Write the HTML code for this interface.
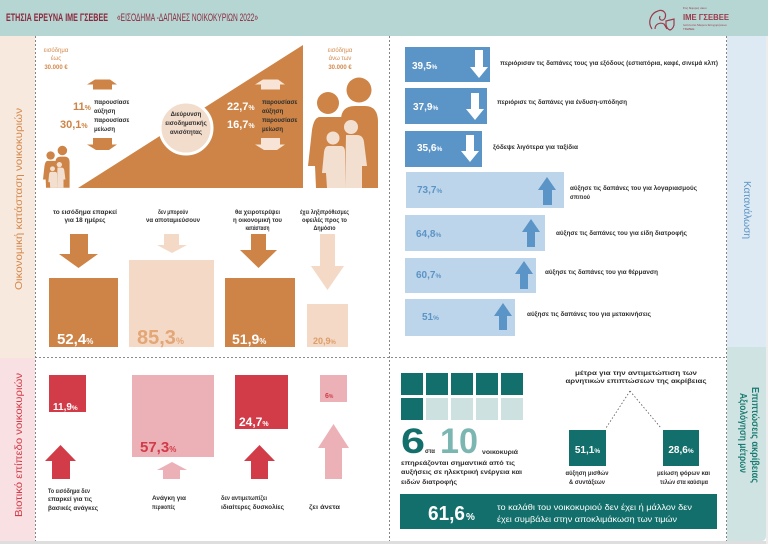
<!DOCTYPE html>
<html><head><meta charset="utf-8"><style>
html,body{margin:0;padding:0;width:768px;height:544px;overflow:hidden;background:#fff}
svg{display:block}
text{font-family:"Liberation Sans",sans-serif}
.d{fill:#2e2e2e;font-size:6px;font-weight:bold}
.w{fill:#fff}
.b{font-weight:bold}
</style></head><body>
<svg width="768" height="544" viewBox="0 0 768 544" xmlns="http://www.w3.org/2000/svg">
<!-- backgrounds -->
<rect x="0" y="0" width="768" height="544" fill="#fff"/>
<rect x="0" y="0" width="768" height="36" fill="#b6d6d4"/>
<rect x="0" y="36" width="35" height="322" fill="#f8e9de"/>
<rect x="0" y="358" width="35" height="183" fill="#f9e0e3"/>
<rect x="727" y="36" width="39" height="311" fill="#dde9f3"/>
<path d="M727,347 H766 V536 Q766,541 761,541 H727 Z" fill="#cfe3e2"/>
<rect x="0" y="541" width="768" height="3" fill="#dedede"/>
<rect x="766" y="36" width="2" height="508" fill="#ececec"/>

<!-- dashed separators -->
<g stroke="#666" stroke-width="0.8" stroke-dasharray="2 2" fill="none">
<path d="M35.5 36 V541"/>
<path d="M389.5 36 V541"/>
<path d="M726.5 36 V541"/>
<path d="M35 357.5 H727"/>
</g>

<!-- header -->
<text x="6" y="21" font-size="11" font-weight="bold" fill="#8b2a3c" textLength="102" lengthAdjust="spacingAndGlyphs">ΕΤΗΣΙΑ ΕΡΕΥΝΑ ΙΜΕ ΓΣΕΒΕΕ</text>
<text x="117" y="21" font-size="11" fill="#8b2a3c" textLength="141" lengthAdjust="spacingAndGlyphs">«ΕΙΣΟΔΗΜΑ -ΔΑΠΑΝΕΣ ΝΟΙΚΟΚΥΡΙΩΝ 2022»</text>
<g fill="none" stroke="#9b3b4b" stroke-width="1.2">
<path d="M652,29 C647,22 651,13 658,11 C663,9 667,13 665,18 C663,22 658,20 660,16"/>
<path d="M655,29 C655,24 660,22 664,24 L667,29"/>
<path d="M666,21 L674,19 L674,25 Q673,29 670,30 Q667,29 666,25 Z"/>
</g>
<text x="683" y="9" font-size="3" fill="#9b3b4b">Στις δίφυρες ακου</text>
<text x="683" y="20" font-size="8" font-weight="bold" fill="#9b3b4b" textLength="46" lengthAdjust="spacingAndGlyphs">ΙΜΕ ΓΣΕΒΕΕ</text>
<text x="683" y="26" font-size="3" fill="#9b3b4b">Ινστιτούτο Μικρών Επιχειρήσεων</text>
<text x="683" y="30" font-size="3" fill="#9b3b4b">ΓΣΕΒΕΕ</text>

<!-- side labels -->
<text transform="translate(22,199) rotate(-90)" text-anchor="middle" font-size="10" fill="#d4894c" textLength="182" lengthAdjust="spacingAndGlyphs">Οικονομική κατάσταση νοικοκυριών</text>
<text transform="translate(22,445) rotate(-90)" text-anchor="middle" font-size="10" fill="#d23b48" textLength="144" lengthAdjust="spacingAndGlyphs">Βιοτικό επίπεδο νοικοκυριών</text>
<text transform="translate(744,210) rotate(90)" text-anchor="middle" font-size="10" fill="#5b94c6" textLength="58" lengthAdjust="spacingAndGlyphs">Κατανάλωση</text>
<text transform="translate(752,435) rotate(90)" text-anchor="middle" font-size="10" font-weight="bold" fill="#1b7b72" textLength="96" lengthAdjust="spacingAndGlyphs">Επιπτώσεις ακρίβειας</text>
<text transform="translate(740,433) rotate(90)" text-anchor="middle" font-size="10" font-weight="bold" fill="#1b7b72" textLength="80" lengthAdjust="spacingAndGlyphs">Αξιολόγηση μέτρων</text>

<!-- ===== TOP LEFT ===== -->
<polygon points="78,188 303,45 303,188" fill="#cd8446"/>
<circle cx="186" cy="128" r="26" fill="#f2dccb" stroke="#fff" stroke-width="3"/>
<text x="186" y="116" text-anchor="middle" class="d" font-size="5.5">Διεύρυνση</text>
<text x="186" y="125" text-anchor="middle" class="d" font-size="5.5">εισοδηματικής</text>
<text x="186" y="134" text-anchor="middle" class="d" font-size="5.5">ανισότητας</text>

<text x="56" y="52" text-anchor="middle" font-size="6" fill="#d4894c">εισόδημα</text>
<text x="56" y="60" text-anchor="middle" font-size="6" fill="#d4894c">έως</text>
<text x="56" y="69" text-anchor="middle" font-size="6" font-weight="bold" fill="#d4894c">30.000 €</text>
<text x="340" y="52" text-anchor="middle" font-size="6" fill="#d4894c">εισόδημα</text>
<text x="340" y="60" text-anchor="middle" font-size="6" fill="#d4894c">άνω των</text>
<text x="340" y="69" text-anchor="middle" font-size="6" font-weight="bold" fill="#d4894c">30.000 €</text>

<!-- small arrows top -->
<polygon points="95,79.5 110,79.5 117,84.5 112,84.5 112,89.5 93,89.5 93,84.5 87,84.5" fill="#cd8446"/>
<polygon points="93,138 112,138 112,144.5 117,144.5 109,150 96,150 87,144.5 93,144.5" fill="#cd8446"/>
<polygon points="263,79.5 278,79.5 285,84.5 280,84.5 280,89.5 261,89.5 261,84.5 255,84.5" fill="#f7e4d6"/>
<polygon points="261,138 280,138 280,144.5 285,144.5 277,150 264,150 255,144.5 261,144.5" fill="#f7e4d6"/>

<text x="73" y="110" font-size="11" font-weight="bold" fill="#cd8446">11<tspan font-size="7">%</tspan></text>
<text x="60" y="128" font-size="11" font-weight="bold" fill="#cd8446">30,1<tspan font-size="7">%</tspan></text>
<text x="94" y="104" class="d">παρουσίασε</text>
<text x="94" y="113" class="d">αύξηση</text>
<text x="94" y="122" class="d">παρουσίασε</text>
<text x="94" y="131" class="d">μείωση</text>

<text x="227" y="110" font-size="11" font-weight="bold" fill="#fff">22,7<tspan font-size="7">%</tspan></text>
<text x="227" y="128" font-size="11" font-weight="bold" fill="#fff">16,7<tspan font-size="7">%</tspan></text>
<text x="262" y="104" class="d">παρουσίασε</text>
<text x="262" y="113" class="d">αύξηση</text>
<text x="262" y="122" class="d">παρουσίασε</text>
<text x="262" y="131" class="d">μείωση</text>

<!-- families -->
<g transform="translate(308,78)">
 <g fill="#cd8446">
  <circle cx="51" cy="12" r="12.5"/>
  <path d="M33,42 Q33,28 47,28 L57,28 Q70,28 70,44 L70,110 L34,110 Z"/>
  <circle cx="20" cy="25" r="11"/>
  <path d="M12,39 L36,39 L36,110 L8,110 L7,88 L0,88 L4,52 Q6,39 12,39 Z"/>
 </g>
 <g fill="#f3dfcf">
  <circle cx="25" cy="60" r="6.5"/>
  <circle cx="43" cy="49" r="7"/>
  <path d="M20,68 L33,68 Q37,68 37,74 L37,110 L19,110 L18,95 L14,95 L16,74 Q17,68 20,68 Z"/>
  <path d="M38,57 L49,57 Q55,57 56,64 L59,88 L54,88 L54,110 L37,110 Z"/>
 </g>
</g>
<g transform="translate(43,146) scale(0.38)">
 <g fill="#cd8446">
  <circle cx="51" cy="12" r="12.5"/>
  <path d="M33,42 Q33,28 47,28 L57,28 Q70,28 70,44 L70,110 L34,110 Z"/>
  <circle cx="20" cy="25" r="11"/>
  <path d="M12,39 L36,39 L36,110 L8,110 L7,88 L0,88 L4,52 Q6,39 12,39 Z"/>
 </g>
 <g fill="#f3dfcf">
  <circle cx="25" cy="60" r="6.5"/>
  <circle cx="43" cy="49" r="7"/>
  <path d="M20,68 L33,68 Q37,68 37,74 L37,110 L19,110 L18,95 L14,95 L16,74 Q17,68 20,68 Z"/>
  <path d="M38,57 L49,57 Q55,57 56,64 L59,88 L54,88 L54,110 L37,110 Z"/>
 </g>
</g>

<!-- ===== MIDDLE LEFT ===== -->
<text x="85" y="214" text-anchor="middle" class="d" textLength="64" lengthAdjust="spacingAndGlyphs">το εισόδημα επαρκεί</text>
<text x="85" y="222" text-anchor="middle" class="d" textLength="41" lengthAdjust="spacingAndGlyphs">για 18 ημέρες</text>
<text x="173" y="214" text-anchor="middle" class="d" textLength="30" lengthAdjust="spacingAndGlyphs">δεν μπορούν</text>
<text x="173" y="222" text-anchor="middle" class="d" textLength="54" lengthAdjust="spacingAndGlyphs">να αποταμιεύσουν</text>
<text x="257.5" y="214" text-anchor="middle" class="d" textLength="45" lengthAdjust="spacingAndGlyphs">θα χειροτερέψει</text>
<text x="257.5" y="222" text-anchor="middle" class="d" textLength="49" lengthAdjust="spacingAndGlyphs">η οικονομική του</text>
<text x="257.5" y="230" text-anchor="middle" class="d" textLength="24" lengthAdjust="spacingAndGlyphs">κατάσταση</text>
<text x="324.5" y="214" text-anchor="middle" class="d" textLength="49" lengthAdjust="spacingAndGlyphs">έχει ληξιπρόθεσμες</text>
<text x="324.5" y="222" text-anchor="middle" class="d" textLength="45" lengthAdjust="spacingAndGlyphs">οφειλές προς το</text>
<text x="324.5" y="230" text-anchor="middle" class="d" textLength="22" lengthAdjust="spacingAndGlyphs">Δημόσιο</text>

<polygon points="70,234 88,234 88,254 98,254 78.5,268 59,254 70,254" fill="#cd8446"/>
<polygon points="164,234 179,234 179,245 187,245 172,253 157,245 164,245" fill="#f3d9c6"/>
<polygon points="251,234 266,234 266,250 277,250 258.5,268 240,250 251,250" fill="#cd8446"/>
<polygon points="320,234 335,234 335,266 344,266 327.5,290 311,266 320,266" fill="#f3d9c6"/>

<rect x="49" y="278" width="69" height="69" fill="#cd8446"/>
<rect x="129" y="260" width="85" height="87" fill="#f3d9c6"/>
<rect x="225" y="278" width="70" height="69" fill="#cd8446"/>
<rect x="307" y="304" width="41" height="43" fill="#f3d9c6"/>
<text x="57" y="344" font-size="15" font-weight="bold" fill="#fff">52,4<tspan font-size="8">%</tspan></text>
<text x="137" y="344" font-size="20" font-weight="bold" fill="#e3a676">85,3<tspan font-size="9">%</tspan></text>
<text x="232" y="344" font-size="14" font-weight="bold" fill="#fff">51,9<tspan font-size="8">%</tspan></text>
<text x="313" y="344" font-size="9" font-weight="bold" fill="#dd9d68">20,9<tspan font-size="6">%</tspan></text>

<!-- ===== TOP RIGHT ===== -->
<rect x="405" y="47" width="85" height="35" fill="#5b94c6"/>
<rect x="405" y="88" width="82" height="36" fill="#5b94c6"/>
<rect x="405" y="131" width="77" height="36" fill="#5b94c6"/>
<rect x="406" y="172" width="158" height="36" fill="#bdd5ea"/>
<rect x="405" y="215" width="140" height="36" fill="#bdd5ea"/>
<rect x="405" y="258" width="131" height="35" fill="#bdd5ea"/>
<rect x="405" y="299" width="110" height="37" fill="#bdd5ea"/>

<polygon points="475,50 483,50 483,67 488,67 479,78 470,67 475,67" fill="#fff"/>
<polygon points="471,93 479,93 479,109 484,109 475,120 466,109 471,109" fill="#fff"/>
<polygon points="466,135 474,135 474,151 479,151 470,162 461,151 466,151" fill="#fff"/>
<polygon points="547,177 556,190 552,190 552,205 543,205 543,190 538,190" fill="#5b94c6"/>
<polygon points="531,219 540,232 535,232 535,247 527,247 527,232 522,232" fill="#5b94c6"/>
<polygon points="524,261 533,274 528,274 528,289 520,289 520,274 515,274" fill="#5b94c6"/>
<polygon points="503,303 512,316 507,316 507,330 499,330 499,316 494,316" fill="#5b94c6"/>

<g font-size="10" font-weight="bold">
<text x="412" y="69" fill="#fff">39,5<tspan font-size="6.5">%</tspan></text>
<text x="413" y="110" fill="#fff">37,9<tspan font-size="6.5">%</tspan></text>
<text x="417" y="151" fill="#fff">35,6<tspan font-size="6.5">%</tspan></text>
<text x="417" y="193" fill="#5b94c6">73,7<tspan font-size="6.5">%</tspan></text>
<text x="416" y="237" fill="#5b94c6">64,8<tspan font-size="6.5">%</tspan></text>
<text x="416" y="278" fill="#5b94c6">60,7<tspan font-size="6.5">%</tspan></text>
<text x="422" y="320" fill="#5b94c6">51<tspan font-size="6.5">%</tspan></text>
</g>
<text x="500" y="65" class="d" textLength="218" lengthAdjust="spacingAndGlyphs">περιόρισαν τις δαπάνες τους για εξόδους (εστιατόρια, καφέ, σινεμά κλπ)</text>
<text x="497" y="104" class="d" textLength="130" lengthAdjust="spacingAndGlyphs">περιόρισε τις δαπάνες για ένδυση-υπόδηση</text>
<text x="493" y="149" class="d" textLength="85" lengthAdjust="spacingAndGlyphs">ξόδεψε λιγότερα για ταξίδια</text>
<text x="570" y="190" class="d" textLength="127" lengthAdjust="spacingAndGlyphs">αύξησε τις δαπάνες του για λογαριασμούς</text>
<text x="570" y="199" class="d" textLength="20" lengthAdjust="spacingAndGlyphs">σπιτιού</text>
<text x="556" y="235" class="d" textLength="131" lengthAdjust="spacingAndGlyphs">αύξησε τις δαπάνες του για είδη διατροφής</text>
<text x="545" y="274" class="d" textLength="113" lengthAdjust="spacingAndGlyphs">αύξησε τις δαπάνες του για θέρμανση</text>
<text x="527" y="316" class="d" textLength="124" lengthAdjust="spacingAndGlyphs">αύξησε τις δαπάνες του για μετακινήσεις</text>

<!-- ===== BOTTOM LEFT ===== -->
<rect x="49" y="375" width="37" height="37" fill="#d23b48"/>
<rect x="132" y="375" width="82" height="82" fill="#ebb1b6"/>
<rect x="235" y="375" width="53" height="54" fill="#d23b48"/>
<rect x="320" y="375" width="27" height="27" fill="#ebb1b6"/>
<text x="53" y="410" font-size="10" font-weight="bold" fill="#fff">11,9<tspan font-size="6.5">%</tspan></text>
<text x="140" y="452" font-size="15" font-weight="bold" fill="#d23b48">57,3<tspan font-size="8">%</tspan></text>
<text x="239" y="426" font-size="12" font-weight="bold" fill="#fff">24,7<tspan font-size="7">%</tspan></text>
<text x="325" y="398" font-size="7" font-weight="bold" fill="#d23b48">6<tspan font-size="5">%</tspan></text>

<polygon points="60.5,445 76,461 70,461 70,479 52,479 52,461 45,461" fill="#d23b48"/>
<polygon points="172,462 187,470 180,470 180,479 163,479 163,470 157,470" fill="#ebb1b6"/>
<polygon points="259.5,445 275,461 268,461 268,479 251,479 251,461 244,461" fill="#d23b48"/>
<polygon points="333.5,424 349,448 342,448 342,479 325,479 325,448 318,448" fill="#ebb1b6"/>

<text x="48" y="493" class="d" textLength="42" lengthAdjust="spacingAndGlyphs">Το εισόδημα δεν</text>
<text x="48" y="501" class="d" textLength="44" lengthAdjust="spacingAndGlyphs">επαρκεί για τις</text>
<text x="48" y="510" class="d" textLength="50" lengthAdjust="spacingAndGlyphs">βασικές ανάγκες</text>
<text x="152" y="500" class="d" textLength="34" lengthAdjust="spacingAndGlyphs">Ανάγκη για</text>
<text x="152" y="509" class="d" textLength="23" lengthAdjust="spacingAndGlyphs">περικοπές</text>
<text x="221" y="500" class="d" textLength="46" lengthAdjust="spacingAndGlyphs">δεν αντιμετωπίζει</text>
<text x="221" y="509" class="d" textLength="63" lengthAdjust="spacingAndGlyphs">ιδιαίτερες δυσκολίες</text>
<text x="309" y="509" class="d" textLength="31" lengthAdjust="spacingAndGlyphs">ζει άνετα</text>

<!-- ===== BOTTOM RIGHT ===== -->
<g fill="#136f6b">
<rect x="401" y="373" width="22" height="22"/>
<rect x="426" y="373" width="22" height="22"/>
<rect x="451" y="373" width="22" height="22"/>
<rect x="476" y="373" width="22" height="22"/>
<rect x="501" y="373" width="22" height="22"/>
<rect x="401" y="398" width="22" height="22"/>
</g>
<g fill="#cde2e0">
<rect x="426" y="398" width="22" height="22"/>
<rect x="451" y="398" width="22" height="22"/>
<rect x="476" y="398" width="22" height="22"/>
<rect x="501" y="398" width="22" height="22"/>
</g>
<text x="401" y="453" font-size="35" font-weight="bold" fill="#136f6b" textLength="24" lengthAdjust="spacingAndGlyphs">6</text>
<text x="425" y="453" class="d" textLength="10" lengthAdjust="spacingAndGlyphs">στα</text>
<text x="440" y="453" font-size="35" font-weight="bold" fill="#7cb6b2" textLength="38" lengthAdjust="spacingAndGlyphs">10</text>
<text x="482" y="454" class="d" textLength="36" lengthAdjust="spacingAndGlyphs">νοικοκυριά</text>
<text x="401" y="465" class="d" textLength="114" lengthAdjust="spacingAndGlyphs">επηρεάζονται σημαντικά από τις</text>
<text x="401" y="474" class="d" textLength="121" lengthAdjust="spacingAndGlyphs">αυξήσεις σε ηλεκτρική ενέργεια και</text>
<text x="401" y="484" class="d" textLength="56" lengthAdjust="spacingAndGlyphs">ειδών διατροφής</text>

<text x="636" y="375" text-anchor="middle" class="d" textLength="122" lengthAdjust="spacingAndGlyphs">μέτρα για την αντιμετώπιση των</text>
<text x="636" y="383" text-anchor="middle" class="d" textLength="141" lengthAdjust="spacingAndGlyphs">αρνητικών επιπτώσεων της ακρίβειας</text>
<path d="M630,391 L606,428 M630,391 L661,428" stroke="#555" stroke-width="0.8" stroke-dasharray="1.5 2" fill="none"/>
<rect x="569" y="430" width="37" height="36" fill="#136f6b"/>
<rect x="663" y="430" width="36" height="36" fill="#136f6b"/>
<text x="587.5" y="453" text-anchor="middle" font-size="10" font-weight="bold" fill="#fff">51,1<tspan font-size="6.5">%</tspan></text>
<text x="681" y="453" text-anchor="middle" font-size="10" font-weight="bold" fill="#fff">28,6<tspan font-size="6.5">%</tspan></text>
<text x="587" y="475" text-anchor="middle" class="d" textLength="43" lengthAdjust="spacingAndGlyphs">αύξηση μισθών</text>
<text x="587" y="484" text-anchor="middle" class="d" textLength="36" lengthAdjust="spacingAndGlyphs">&amp; συντάξεων</text>
<text x="683.5" y="475" text-anchor="middle" class="d" textLength="53" lengthAdjust="spacingAndGlyphs">μείωση φόρων και</text>
<text x="684" y="484" text-anchor="middle" class="d" textLength="48" lengthAdjust="spacingAndGlyphs">τελών στα καύσιμα</text>

<rect x="400" y="494" width="317" height="35" fill="#136f6b"/>
<text x="428" y="520" font-size="20" font-weight="bold" fill="#fff" textLength="37" lengthAdjust="spacingAndGlyphs">61,6</text>
<text x="466" y="520" font-size="10" font-weight="bold" fill="#fff">%</text>
<text x="497" y="510" font-size="8" fill="#fff" textLength="195" lengthAdjust="spacingAndGlyphs">το καλάθι του νοικοκυριού δεν έχει ή μάλλον δεν</text>
<text x="497" y="522" font-size="8" fill="#fff" textLength="180" lengthAdjust="spacingAndGlyphs">έχει συμβάλει στην αποκλιμάκωση των τιμών</text>
</svg>
</body></html>
